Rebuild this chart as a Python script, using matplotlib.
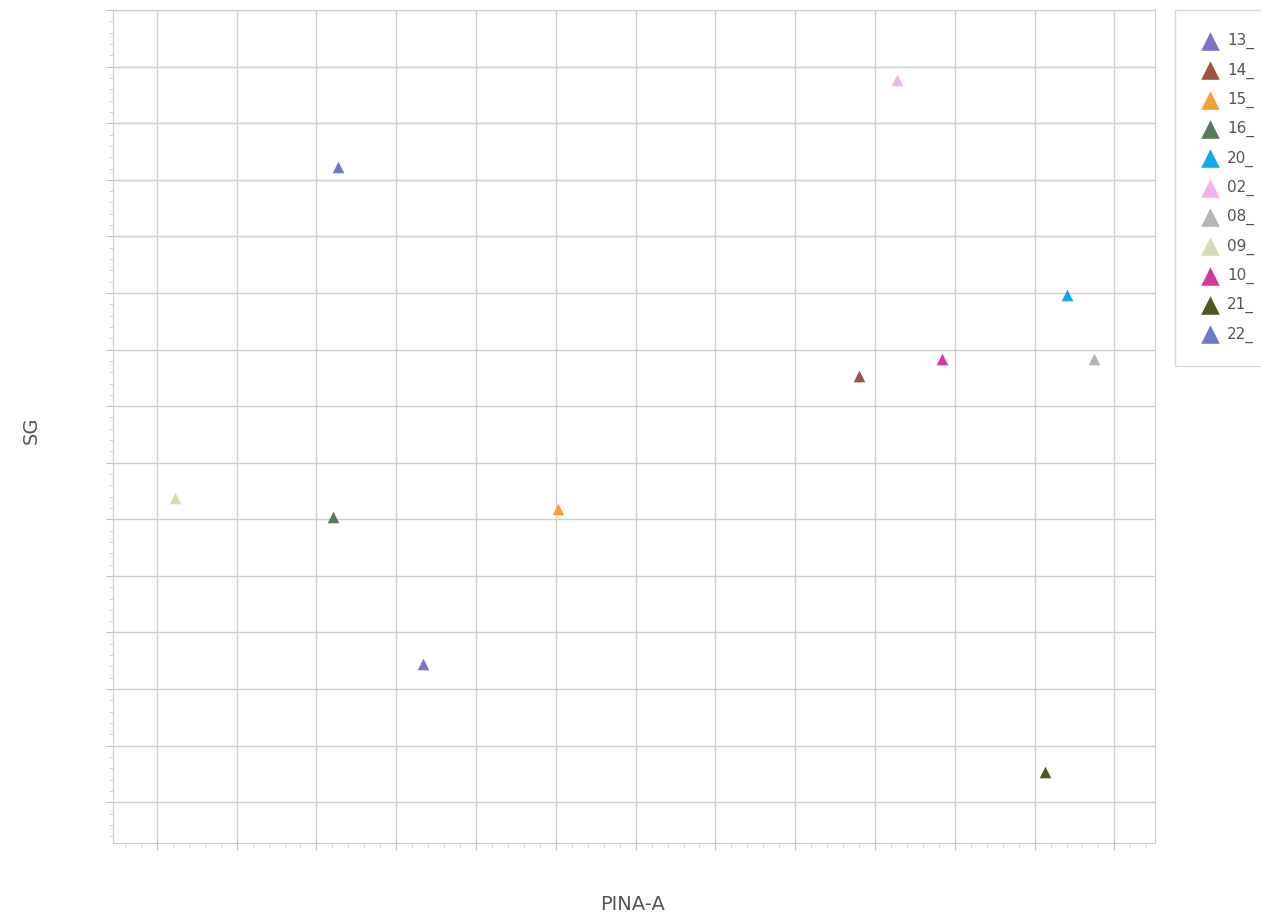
import matplotlib
matplotlib.use("Agg")
import matplotlib.pyplot as plt
from matplotlib.ticker import MultipleLocator, AutoMinorLocator

# series names (as shown, truncated in the legend)
names = ["13_", "14_", "15_", "16_", "20_", "02_", "08_", "09_", "10_", "21_", "22_"]
# PINA-A values
pina_a = [3.34, 8.80, 5.03, 2.21, 11.41, 9.27, 11.75, 0.23, 9.84, 11.13, 2.27]
# SG values
sg = [2.44, 7.53, 5.18, 5.04, 8.96, 12.77, 7.84, 5.37, 7.84, 0.53, 11.22]
colors = ["#7E74C6", "#A0523E", "#F2A235", "#5B7A5C", "#12A9E6", "#F2B3EA",
          "#B5B5B5", "#D2DDB3", "#D23A9C", "#4A5A22", "#6C7BC9"]

fig = plt.figure(figsize=(12.61, 9.15), dpi=100)
ax = fig.add_axes([0.0896, 0.0787, 0.8264, 0.9103])

for n, x, y, c in zip(names, pina_a, sg, colors):
    ax.scatter(x, y, marker="^", s=70, color=c, label=n, linewidths=0, zorder=3)

ax.set_xlim(-0.55, 12.51)
ax.set_ylim(-0.72, 14.0)
ax.xaxis.set_major_locator(MultipleLocator(1))
ax.yaxis.set_major_locator(MultipleLocator(1))
ax.xaxis.set_minor_locator(AutoMinorLocator(5))
ax.yaxis.set_minor_locator(AutoMinorLocator(5))
ax.set_xticklabels([])
ax.set_yticklabels([])
ax.tick_params(which="major", length=5, color="#C0C0C0", direction="out")
ax.tick_params(which="minor", length=3, color="#CCCCCC", direction="out")
ax.grid(True, which="major", color="#CFCFCF", linewidth=1.0)
ax.set_axisbelow(True)
for s in ax.spines.values():
    s.set_color("#CCCCCC")

fig.text(0.0245, 0.53, "SG", rotation=90, fontsize=14, color="#555555",
         ha="center", va="center")
fig.text(0.502, 0.011, "PINA-A", fontsize=14, color="#555555",
         ha="center", va="center")

leg = ax.legend(loc="upper left", bbox_to_anchor=(0.9318, 0.989),
                bbox_transform=fig.transFigure, frameon=True, fontsize=11,
                markerscale=1.6, handletextpad=0.3, handlelength=1.6,
                labelspacing=0.86, borderpad=1.5, borderaxespad=0,
                fancybox=False, edgecolor="#D0D0D0")
for t in leg.get_texts():
    t.set_color("#555555")

fig.savefig("out.png", dpi=100)
